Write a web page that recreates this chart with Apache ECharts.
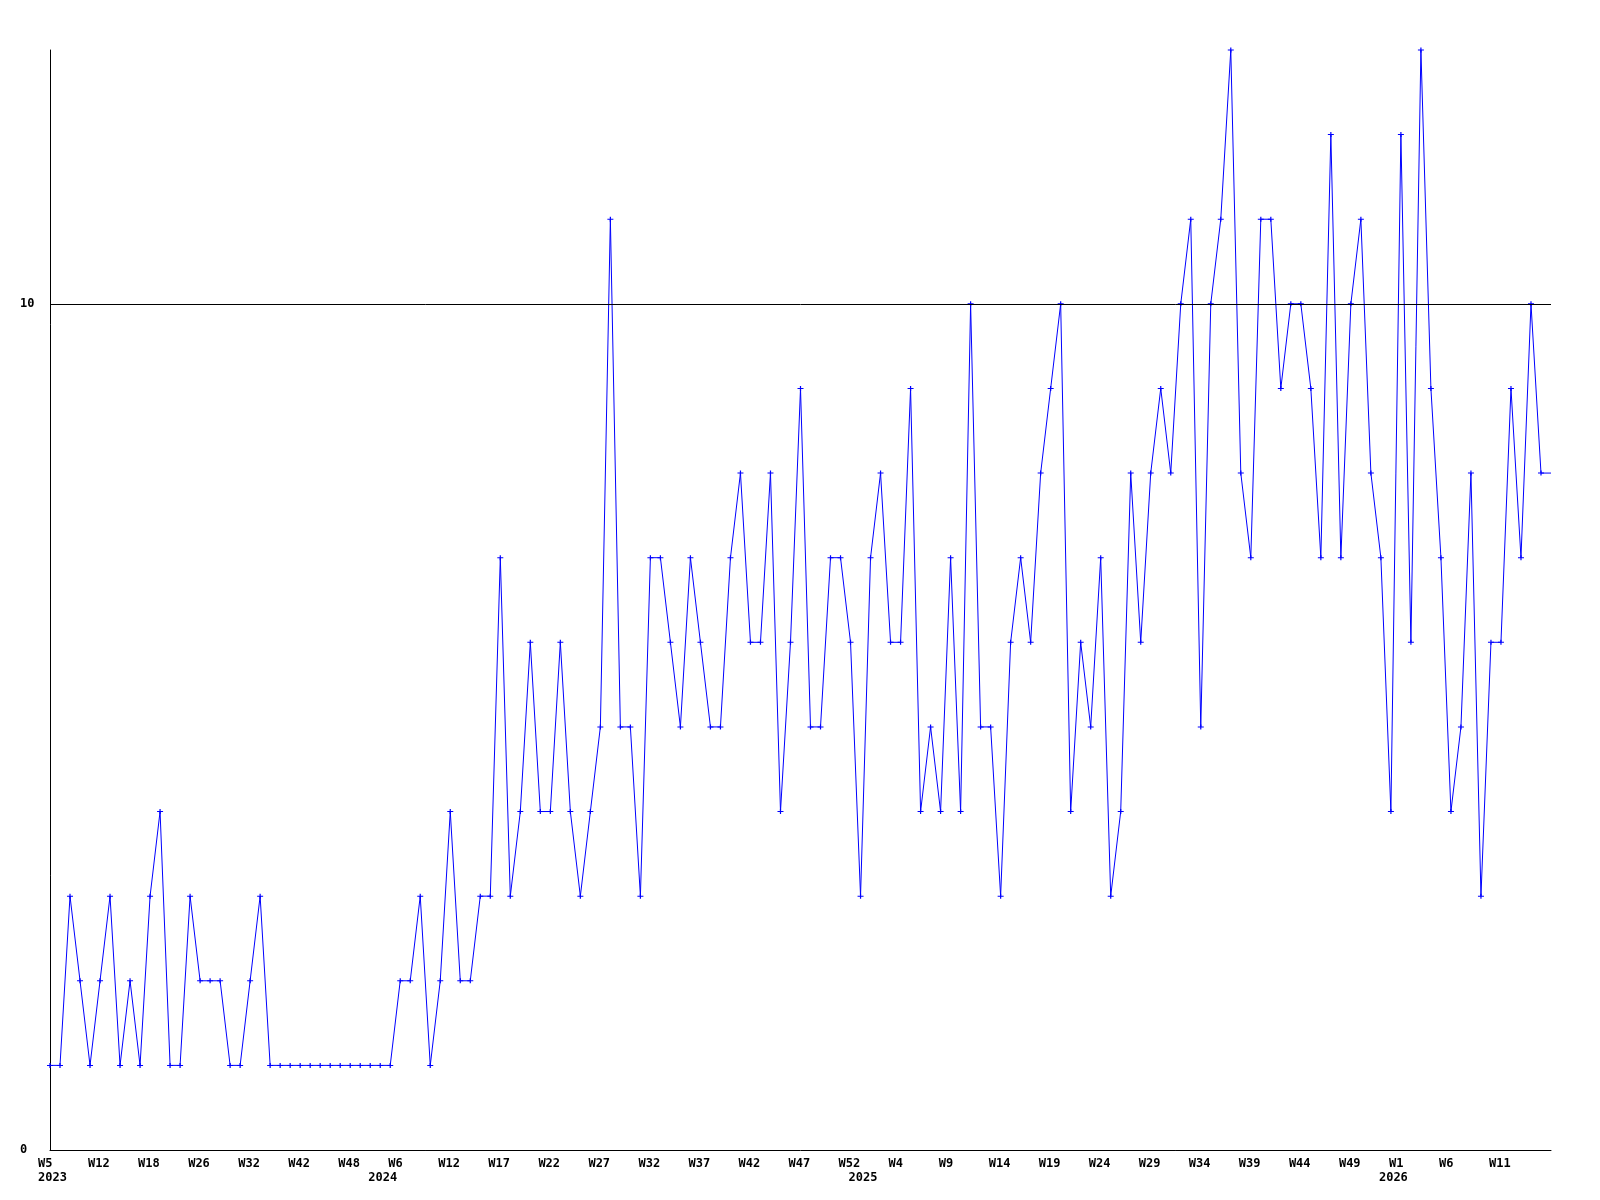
<!DOCTYPE html>
<html>
<head>
<meta charset="utf-8">
<script src="https://cdn.jsdelivr.net/npm/echarts@6/dist/echarts.min.js"></script>
<style>
html,body{margin:0;padding:0;background:#fff;}
#chart{width:1600px;height:1200px;}
</style>
</head>
<body>
<div id="chart"></div>
<script>
// Weekly values (one per category point)
const values = [
  1,1,3,2,1,2,3,1,2,1,3,4,1,1,3,2,2,2,1,1,
  2,3,1,1,1,1,1,1,1,1,1,1,1,1,1,2,2,3,
  1,2,4,2,2,3,3,7,3,4,6,4,4,6,4,3,4,5,11,
  5,5,3,7,7,6,5,7,6,5,5,7,8,6,6,8,4,6,9,
  5,5,7,7,6,3,7,8,6,6,9,4,5,4,7,4,10,5,5,
  3,6,7,6,8,9,10,4,6,5,7,3,4,8,6,8,9,8,10,
  11,5,10,11,13,8,7,11,11,9,10,10,9,7,12,7,10,11,8,
  7,4,12,6,13,9,7,4,5,8,3,6,6,9,7,10,8,
  8
];
// Week tick labels, shown on every 5th point
const weekTicks = ['W5','W12','W18','W26','W32','W42','W48','W6','W12','W17','W22','W27','W32','W37','W42','W47','W52','W4','W9','W14','W19','W24','W29','W34','W39','W44','W49','W1','W6','W11'];
// Year labels and the point index where each year starts
const yearLabels = ['2023','2024','2025','2026'];
const yearStart = [0,33,81,134];
const yTickLabels = ['0','10'];

const categories = values.map((v,i)=>String(i));
const seriesData = values.map((v,i)=> i === values.length-1 ? {value:v, symbol:'none'} : v);

const font = {fontFamily:'DejaVu Sans Mono', fontWeight:'bold', fontSize:12, color:'#000'};

const chart = echarts.init(document.getElementById('chart'), null, {renderer:'canvas'});
chart.setOption({
  animation:false,
  backgroundColor:'#fff',
  grid:{left:50, right:49, top:50, bottom:50, containLabel:false},
  xAxis:[{
    type:'category', data:categories, boundaryGap:false,
    axisLine:{show:true, lineStyle:{color:'#000', width:1}},
    axisTick:{show:false},
    splitLine:{show:false},
    axisLabel:Object.assign({
      interval:0, margin:8, padding:[0,0,0,5],
      formatter:(v,idx)=> (idx % 5 === 0 && weekTicks[idx/5]) ? weekTicks[idx/5].padEnd(4,' ') : ''
    }, font)
  },{
    type:'category', data:categories, boundaryGap:false, position:'bottom', gridIndex:0,
    axisLine:{show:false}, axisTick:{show:false}, splitLine:{show:false},
    axisLabel:Object.assign({
      interval:0, margin:22, padding:[0,0,0,5],
      formatter:(v,idx)=>{ const k = yearStart.indexOf(idx); return k>=0 ? yearLabels[k] : ''; }
    }, font)
  }],
  yAxis:{
    type:'value', min:0, max:13, interval:10,
    axisLine:{show:true, lineStyle:{color:'#000', width:1}},
    axisTick:{show:false},
    splitLine:{show:false},
    axisLabel:Object.assign({
      align:'left', margin:30, showMaxLabel:false,
      formatter:(v)=> yTickLabels.includes(String(v)) ? String(v) : ''
    }, font)
  },
  series:[{
    type:'line', xAxisIndex:0, data:seriesData,
    symbol:'path://M2,0H3V2H5V3H3V5H2V3H0V2H2Z', symbolSize:[6,5],
    showAllSymbol:true,
    itemStyle:{color:'#0000ff'},
    lineStyle:{color:'#0000ff', width:1},
    markLine:{
      silent:true, symbol:'none',
      label:{show:false},
      lineStyle:{color:'#000', width:1, type:'solid'},
      data:[{yAxis:10}]
    }
  }]
});
</script>
</body>
</html>
